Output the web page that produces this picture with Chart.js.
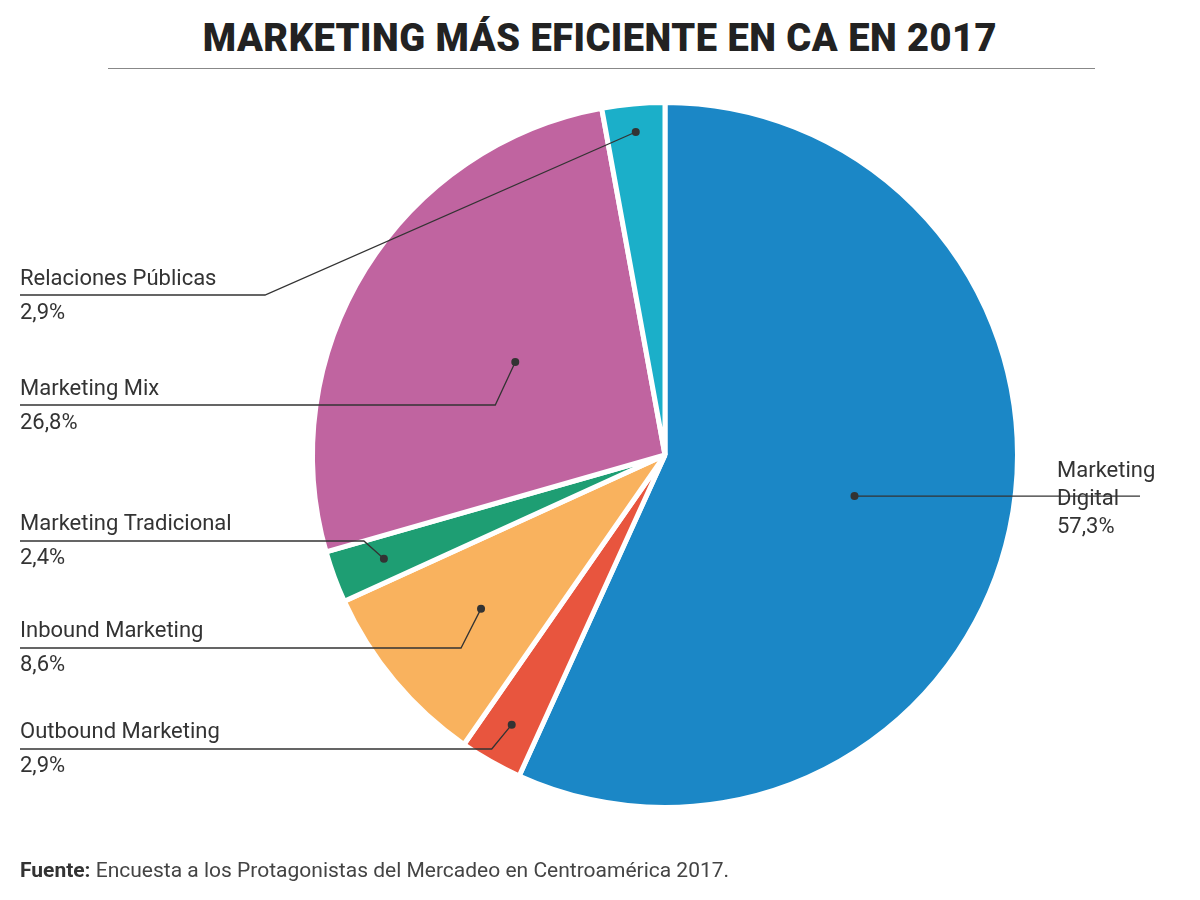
<!DOCTYPE html>
<html>
<head>
<meta charset="utf-8">
<script src="https://cdn.jsdelivr.net/npm/chart.js"></script>
<style>
  body { margin: 0; background: #fff; font-family: "Roboto", "Noto Sans", sans-serif; }
  #wrap { position: relative; width: 1200px; height: 900px; }
  #title { position: absolute; top: 16px; left: 0; width: 1200px; text-align: center;
    font-family: "Roboto", sans-serif; font-weight: 900; font-size: 38px; color: #222; letter-spacing: 0.5px; }
  #rule { position: absolute; top: 68px; left: 108px; width: 987px; height: 1px; background: #888; }
  #source { position: absolute; top: 858px; left: 20px; font-size: 21px; color: #444; }
  #source b { color: #333; }
  canvas { position: absolute; top: 0; left: 0; }
</style>
</head>
<body>
<div id="wrap">
  <div id="title">MARKETING MÁS EFICIENTE EN CA EN 2017</div>
  <div id="rule"></div>
  <canvas id="pie" width="1200" height="900"></canvas>
  <div id="source"><b>Fuente:</b> Encuesta a los Protagonistas del Mercadeo en Centroamérica 2017.</div>
</div>
<script>
const categories = ['Marketing Digital', 'Outbound Marketing', 'Inbound Marketing', 'Marketing Tradicional', 'Marketing Mix', 'Relaciones Públicas'];
const values = [57.3, 2.9, 8.6, 2.4, 26.8, 2.9];
const valueLabels = ['57,3%', '2,9%', '8,6%', '2,4%', '26,8%', '2,9%'];
const colors = ['#1B87C6', '#E8553E', '#F9B25E', '#1E9E73', '#C064A0', '#1BAFC9'];

// label placement: text position, underline y, elbow x, dot radius fraction
const labelSpots = [
  { x: 1057, y: 472, lines: ['Marketing', 'Digital'], lineY: 520, right: true, frac: 0.55 },
  { x: 20, y: 733, lines: ['Outbound Marketing'], lineY: 749, frac: 0.88 },
  { x: 20, y: 632, lines: ['Inbound Marketing'], lineY: 648, frac: 0.68 },
  { x: 20, y: 525, lines: ['Marketing Tradicional'], lineY: 541, frac: 0.85 },
  { x: 20, y: 390, lines: ['Marketing Mix'], lineY: 405, frac: 0.5 },
  { x: 20, y: 280, lines: ['Relaciones Públicas'], lineY: 295, elbow: 265, frac: 0.92 }
];

const leaderPlugin = {
  id: 'leaders',
  afterDraw(chart) {
    const ctx = chart.ctx;
    const arcs = chart.getDatasetMeta(0).data;
    ctx.save();
    ctx.font = '22px "Roboto", sans-serif';
    ctx.fillStyle = '#333';
    ctx.strokeStyle = '#333';
    ctx.lineWidth = 1.3;
    ctx.textBaseline = 'top';
    arcs.forEach((arc, i) => {
      const s = labelSpots[i];
      const mid = (arc.startAngle + arc.endAngle) / 2;
      const r = arc.outerRadius * s.frac;
      const dx = arc.x + Math.cos(mid) * r;
      const dy = arc.y + Math.sin(mid) * r;
      s.lines.forEach((t, k) => ctx.fillText(t, s.x, s.y - 12 + k * 28));
      ctx.fillText(valueLabels[i], s.x, s.y - 12 + s.lines.length * 28 + (s.right ? 0 : 6));
      ctx.beginPath();
      if (s.right) {
        ctx.moveTo(dx, dy);
        ctx.lineTo(1140, dy);
      } else if (s.elbow) {
        ctx.moveTo(s.x, s.lineY);
        ctx.lineTo(s.elbow, s.lineY);
        ctx.lineTo(dx, dy);
      } else {
        ctx.moveTo(s.x, s.lineY);
        ctx.lineTo(dx - 20, s.lineY);
        ctx.lineTo(dx, dy);
      }
      ctx.stroke();
      ctx.beginPath();
      ctx.arc(dx, dy, 4, 0, Math.PI * 2);
      ctx.fillStyle = '#333';
      ctx.fill();
    });
    ctx.restore();
  }
};

new Chart(document.getElementById('pie'), {
  type: 'pie',
  data: {
    labels: categories,
    datasets: [{ data: values, backgroundColor: colors, borderColor: '#fff', borderWidth: 5 }]
  },
  options: {
    responsive: false,
    animation: false,
    layout: { padding: { left: 310, right: 180, top: 100, bottom: 90 } },
    plugins: { legend: { display: false }, tooltip: { enabled: false } }
  },
  plugins: [leaderPlugin]
});
</script>
</body>
</html>
